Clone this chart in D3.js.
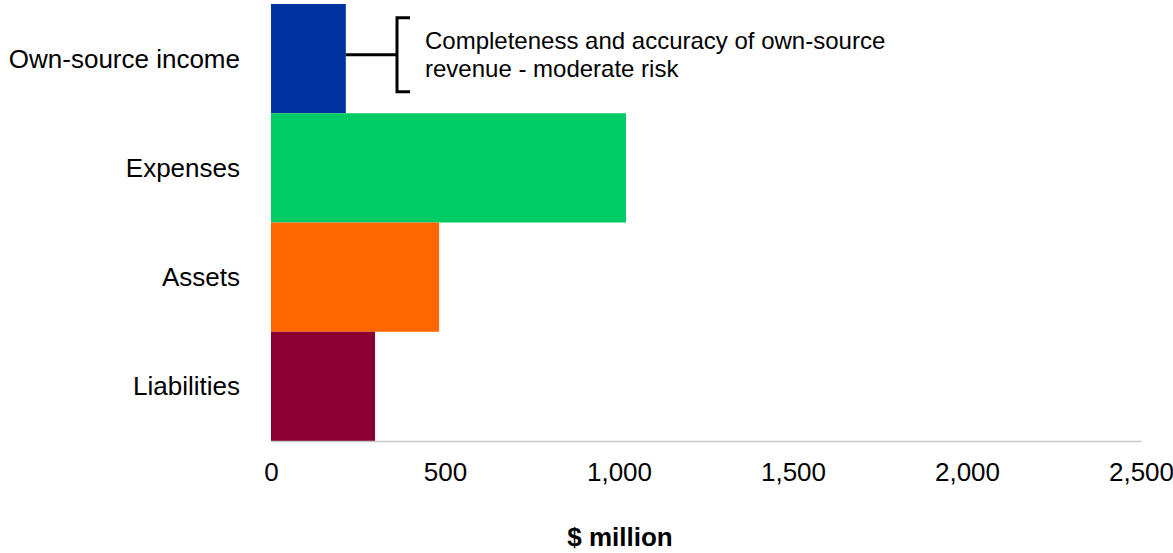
<!DOCTYPE html>
<html>
<head>
<meta charset="utf-8">
<script src="https://cdn.jsdelivr.net/npm/d3@7"></script>
<style>
  body { margin: 0; background: #fff; }
  text { font-family: "Liberation Sans", Arial, sans-serif; fill: #000; }
</style>
</head>
<body>
<svg id="chart" width="1173" height="553"></svg>
<script>
// data
var categories = ["Own-source income", "Expenses", "Assets", "Liabilities"];
var values = [215, 1020, 483, 299];
var colours = ["#0033a0", "#00cc66", "#ff6600", "#8a0032"];
var tickValues = [0, 500, 1000, 1500, 2000, 2500];
var noteLines = ["Completeness and accuracy of own-source", "revenue - moderate risk"];

var svg = d3.select("#chart");
var margin = {top: 4, right: 32, bottom: 112, left: 271};
var width = 1173 - margin.left - margin.right,
    height = 553 - margin.top - margin.bottom;

var g = svg.append("g").attr("transform", "translate(" + margin.left + "," + margin.top + ")");

var x = d3.scaleLinear().domain([0, 2500]).range([0, width]);
var y = d3.scaleBand().domain(categories).range([0, height]).padding(0);

//bars
g.selectAll(".bar").data(values)
  .enter().append("rect")
  .attr("class", "bar")
  .attr("x", 0)
  .attr("y", function(d, i) { return y(categories[i]); })
  .attr("height", y.bandwidth())
  .attr("width", function(d) { return x(d); })
  .style("fill", function(d, i) { return colours[i]; });

//category labels
g.selectAll(".cat").data(categories)
  .enter().append("text")
  .attr("class", "cat")
  .attr("x", -31)
  .attr("y", function(d) { return y(d) + y.bandwidth() / 2; })
  .attr("dy", "0.35em")
  .attr("text-anchor", "end")
  .style("font-size", "26px")
  .text(function(d) { return d; });

//x axis
var xaxis = g.append("g")
  .attr("transform", "translate(0," + height + ")")
  .call(d3.axisBottom(x).tickValues(tickValues).tickFormat(d3.format(",")).tickSize(0).tickPadding(22));
xaxis.select(".domain").attr("stroke", "#c8c8c8").attr("stroke-width", 1.5);
xaxis.selectAll("text").style("font-size", "26px").style("font-family", "Liberation Sans, Arial, sans-serif");

svg.append("text")
  .attr("x", 620)
  .attr("y", 546)
  .attr("text-anchor", "middle")
  .style("font-size", "26px")
  .style("font-weight", "bold")
  .text("$ million");

//bracket annotation
var yMid = y(categories[0]) + y.bandwidth() / 2 - 4;
var bx = x(values[0]);
g.append("line")
  .attr("x1", bx).attr("x2", 126)
  .attr("y1", yMid).attr("y2", yMid)
  .attr("stroke", "#000").attr("stroke-width", 3);
g.append("path")
  .attr("d", "M139," + (yMid - 37) + "H126V" + (yMid + 37) + "H139")
  .attr("fill", "none").attr("stroke", "#000").attr("stroke-width", 3);

g.selectAll(".note").data(noteLines)
  .enter().append("text")
  .attr("class", "note")
  .attr("x", 154)
  .attr("y", function(d, i) { return 45 + i * 28; })
  .style("font-size", "24px")
  .text(function(d) { return d; });
</script>
</body>
</html>
